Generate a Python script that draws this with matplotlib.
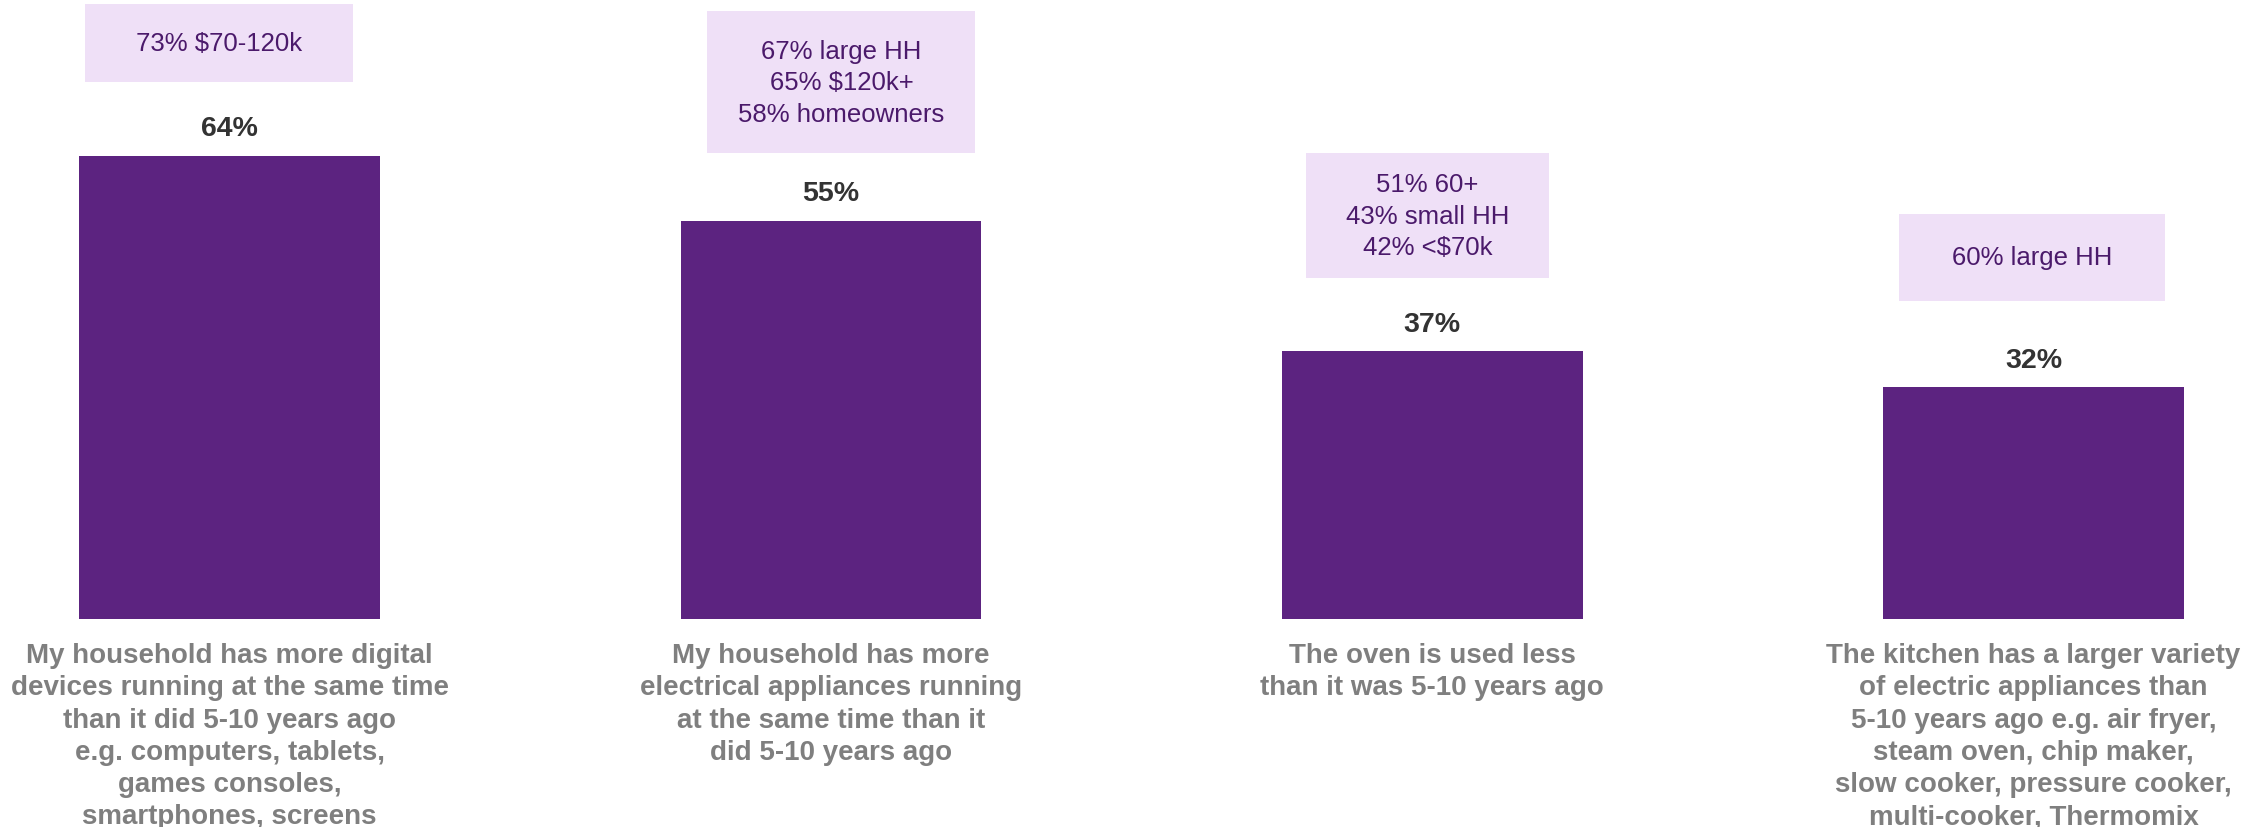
import matplotlib.pyplot as plt
from matplotlib.patches import Rectangle

plt.rcParams['font.family'] = ['Liberation Sans', 'DejaVu Sans']

statements = [
    'My household has more digital\ndevices running at the same time\nthan it did 5-10 years ago\ne.g. computers, tablets,\ngames consoles,\nsmartphones, screens',
    'My household has more\nelectrical appliances running\nat the same time than it\ndid 5-10 years ago',
    'The oven is used less\nthan it was 5-10 years ago',
    'The kitchen has a larger variety\nof electric appliances than\n5-10 years ago e.g. air fryer,\nsteam oven, chip maker,\nslow cooker, pressure cooker,\nmulti-cooker, Thermomix',
]
agree_pct = [64, 55, 37, 32]
subgroups = [
    '73% $70-120k',
    '67% large HH\n65% $120k+\n58% homeowners',
    '51% 60+\n43% small HH\n42% <$70k',
    '60% large HH',
]

# callout boxes: x shift, width, gap above bar, height (data units)
box_dx = [-0.0175, 0.0175, -0.008, -0.0025]
box_w = [0.446, 0.446, 0.404, 0.442]
box_gap = [10.2, 9.4, 10.1, 12.0]
box_h = [10.8, 19.6, 17.3, 12.0]

bar_color = '#5c2380'
box_color = '#efe0f7'
box_text = '#4b1a6b'
value_color = '#333333'
label_color = '#7f7f7f'

fig = plt.figure(figsize=(22.67, 8.28), dpi=100)
ax = fig.add_axes([0, 0, 1, 1])
x = list(range(len(agree_pct)))

ax.bar(x, agree_pct, width=0.5, color=bar_color)

for i, v in enumerate(agree_pct):
    ax.annotate('{0}%'.format(v), (i, v), xytext=(0, 20), textcoords='offset points',
                ha='center', va='center', fontsize=20.5, fontweight='bold', color=value_color)

    bx = i + box_dx[i]
    by = v + box_gap[i]
    ax.add_patch(Rectangle((bx - box_w[i] / 2, by), box_w[i], box_h[i],
                           facecolor=box_color, edgecolor='none'))
    ax.text(bx, by + box_h[i] / 2, subgroups[i], ha='center', va='center',
            fontsize=18.5, color=box_text, linespacing=1.4)

    ax.text(i, -3.2, statements[i], ha='center', va='top', fontsize=20,
            fontweight='bold', color=label_color, linespacing=1.31)

ax.set_xlim(-0.3817, 3.3883)
ax.set_ylim(-28.75, 85.7)
ax.axis('off')

fig.savefig('out.png', dpi=100)
